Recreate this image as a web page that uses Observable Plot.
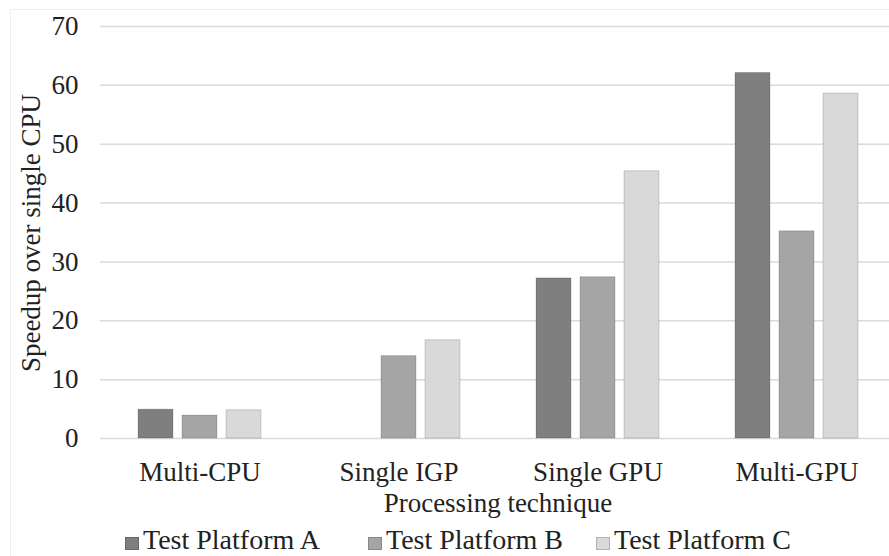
<!DOCTYPE html>
<html>
<head>
<meta charset="utf-8">
<script src="https://cdn.jsdelivr.net/npm/d3@7"></script>
<script src="https://cdn.jsdelivr.net/npm/@observablehq/plot@0.6"></script>
<style>
  html, body { margin: 0; padding: 0; background: #fff; overflow: hidden; }
  #wrap { position: relative; width: 889px; height: 556px; overflow: hidden;
          font-family: "Liberation Serif", Tinos, "Times New Roman", Times, "Nimbus Roman", "Nimbus Roman No9 L", FreeSerif, "Noto Serif", "DejaVu Serif", serif; color: #222; }
  #frame { position: absolute; left: 10px; top: 9px; width: 1000px; height: 700px;
           border: 1px solid #efefef; box-sizing: border-box; }
  #chart { position: absolute; left: 0; top: 0; }
  .item { position: absolute; top: 526px; height: 28px; font-size: 28px; line-height: 28px; white-space: nowrap; }
  .sw { position: absolute; top: 11px; width: 14px; height: 13px; box-sizing: border-box;
        border: 1px solid rgba(0,0,0,0.18); }
  .lt { position: absolute; top: 0; left: 18px; }
</style>
</head>
<body>
<div id="wrap">
  <div id="frame"></div>
  <div id="chart"></div>
  <div id="legend"></div>
</div>
<script>
// ---- data ----
const categories = ["Multi-CPU", "Single IGP", "Single GPU", "Multi-GPU"];
const platforms = ["Test Platform A", "Test Platform B", "Test Platform C"];
const platformA = [4.9, null, 27.2, 62.1];
const platformB = [3.9, 14.0, 27.4, 35.2];
const platformC = [4.8, 16.7, 45.4, 58.6];
const yTicks = [0, 10, 20, 30, 40, 50, 60, 70];
const colors = ["#7f7f7f", "#a5a5a5", "#d9d9d9"];
const yLabel = "Speedup over single CPU";
const xLabel = "Processing technique";

// ---- table ----
const series = [platformA, platformB, platformC];
const rows = [];
platforms.forEach((p, i) => categories.forEach((c, j) => {
  if (series[i][j] != null) rows.push({category: c, platform: p, value: series[i][j]});
}));

const font = '"Liberation Serif", Tinos, "Times New Roman", Times, "Nimbus Roman", "Nimbus Roman No9 L", FreeSerif, "Noto Serif", "DejaVu Serif", serif';

const chart = Plot.plot({
  width: 889,
  height: 520,
  marginLeft: 100,
  marginRight: -7,
  marginTop: 26,
  marginBottom: 82,
  style: {fontFamily: font, fontSize: "27px", color: "#222", background: "transparent"},
  fx: {domain: categories, padding: 0, axis: "bottom", tickSize: 0, tickPadding: 23, label: null},
  x: {domain: platforms, axis: null, paddingInner: 0.2, paddingOuter: 0.836},
  y: {domain: [0, 70], ticks: yTicks, tickSize: 0, tickPadding: 22, label: null},
  color: {domain: platforms, range: colors},
  marks: [
    Plot.gridY(yTicks, {stroke: "#dadada", strokeOpacity: 1, strokeWidth: 1.5}),
    Plot.barY(rows, {fx: "category", x: "platform", y: "value", fill: "platform",
                     stroke: "#000", strokeOpacity: 0.16, strokeWidth: 1})
  ]
});
document.getElementById("chart").appendChild(chart);

const svg = d3.select(chart);
svg.selectAll("text").style("font-family", font);
const fxRange = chart.scale("fx").range;
const yRange = chart.scale("y").range;
svg.append("text")
  .attr("transform", `translate(40,${(yRange[0] + yRange[1]) / 2 + 1}) rotate(-90)`)
  .attr("text-anchor", "middle")
  .attr("fill", "#222")
  .style("font-family", font)
  .text(yLabel);
svg.append("text")
  .attr("x", (fxRange[0] + fxRange[1]) / 2)
  .attr("y", 512)
  .attr("text-anchor", "middle")
  .attr("fill", "#222")
  .style("font-family", font)
  .text(xLabel);

// ---- legend ----
const legendLeft = [125, 368, 596];
const legend = document.getElementById("legend");
platforms.forEach((p, i) => {
  const item = document.createElement("div");
  item.className = "item";
  item.style.left = legendLeft[i] + "px";
  const sw = document.createElement("span");
  sw.className = "sw";
  sw.style.background = colors[i];
  const t = document.createElement("span");
  t.className = "lt";
  t.textContent = p;
  item.appendChild(sw);
  item.appendChild(t);
  legend.appendChild(item);
});
</script>
</body>
</html>
